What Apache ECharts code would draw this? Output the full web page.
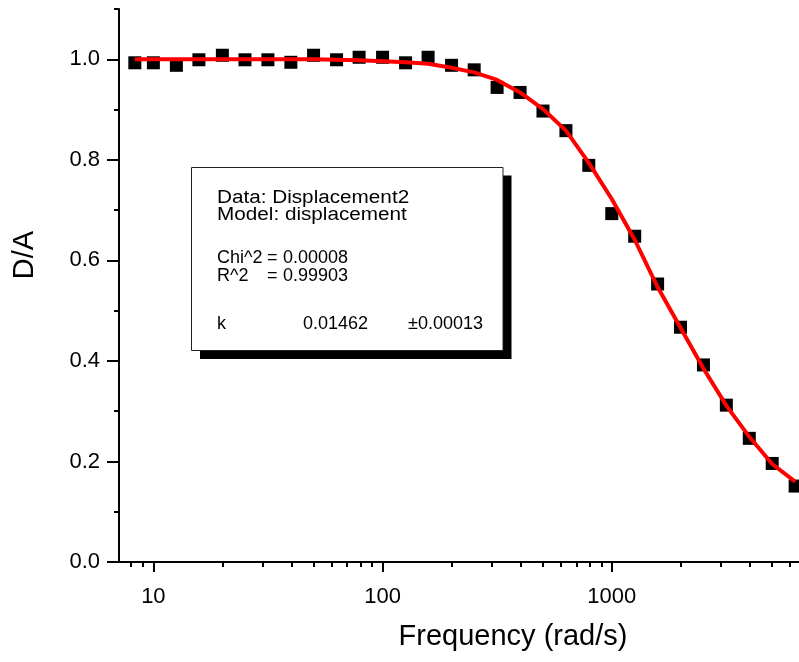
<!DOCTYPE html>
<html><head><meta charset="utf-8">
<script src="https://cdn.jsdelivr.net/npm/echarts@6/dist/echarts.min.js"></script>
<style>html,body{margin:0;padding:0;background:#fff}#chart{width:799px;height:662px}</style>
</head><body><div id="chart"></div>
<script>
// Measured data (Frequency in rad/s, D/A)
const frequency = [8.3, 10, 12.6, 15.8, 20, 25.1, 31.6, 39.8, 50, 63, 79, 100, 126, 158, 200, 251, 316, 398, 501, 631, 794, 1000, 1259, 1585, 1995, 2512, 3162, 3981, 5012, 6310];
const displacement = [0.993, 0.993, 0.988, 0.999, 1.008, 0.999, 0.999, 0.994, 1.008, 0.999, 1.004, 1.004, 0.993, 1.004, 0.988, 0.979, 0.944, 0.934, 0.897, 0.858, 0.789, 0.693, 0.648, 0.553, 0.467, 0.392, 0.312, 0.246, 0.196, 0.151];
// Fitted model curve
const fitFrequency = [8.3, 10, 12.6, 15.8, 20, 25.1, 31.6, 39.8, 50, 63, 79, 100, 126, 158, 200, 251, 316, 398, 501, 631, 794, 1000, 1259, 1585, 1995, 2512, 3162, 3981, 5012, 6310];
const fitValues = [1.000, 1.000, 1.000, 1.000, 1.000, 1.000, 1.000, 1.000, 1.000, 0.999, 0.998, 0.996, 0.994, 0.991, 0.983, 0.974, 0.959, 0.934, 0.901, 0.858, 0.794, 0.722, 0.641, 0.547, 0.466, 0.385, 0.311, 0.249, 0.195, 0.160];
// Axis ticks
const xMajorTicks = [10, 100, 1000];
const xMinorTicks = [8, 9, 20, 30, 40, 50, 60, 70, 80, 90, 200, 300, 400, 500, 600, 700, 800, 900, 2000, 3000, 4000, 5000, 6000];
const yMajorTicks = [0, 0.2, 0.4, 0.6, 0.8, 1.0];
const yMinorTicks = [0.1, 0.3, 0.5, 0.7, 0.9, 1.1];
// Fit report text
const reportLines = ['Data: Displacement2', 'Model: displacement'];
const reportChi = ['Chi^2', '=', '0.00008'];
const reportR = ['R^2', '=', '0.99903'];
const reportK = ['k', '0.01462', '\u00b10.00013'];

const FONT = "'Liberation Sans', Arial, Helvetica, sans-serif";
const X_MIN = 7.08, X_MAX = 6560, Y_MIN = 0, Y_MAX = 1.1;

const chart = echarts.init(document.getElementById('chart'), null, {renderer: 'canvas'});

function txt(text, x, y, size, sx) {
  return {type: 'text', z: 110, x: x, y: y, scaleX: sx || 1,
    style: {text: text, x: 0, y: 0, fill: '#000', font: size + 'px ' + FONT, verticalAlign: 'middle', align: 'left'}};
}
const BOX_FS = 18;

chart.setOption({
  animation: false,
  backgroundColor: '#fff',
  grid: {left: 119, top: 9, right: 0, bottom: 100, containLabel: false},
  xAxis: [{
    type: 'log', min: X_MIN, max: X_MAX, position: 'bottom',
    name: 'Frequency (rad/s)', nameLocation: 'middle', nameGap: 60,
    nameTextStyle: {fontSize: 29, fontFamily: FONT, color: '#000', padding: [0, 0, 0, 108]},
    axisLine: {show: true, lineStyle: {color: '#000', width: 2}},
    axisTick: {show: true, inside: false, length: 10, lineStyle: {color: '#000', width: 2}, customValues: xMajorTicks},
    axisLabel: {show: true, margin: 24, fontSize: 22, fontFamily: FONT, color: '#000', customValues: xMajorTicks,
      formatter: function (v) { return String(Math.round(v)); }},
    splitLine: {show: false}, minorTick: {show: false}
  }, {
    type: 'log', min: X_MIN, max: X_MAX, position: 'bottom',
    axisLine: {show: false},
    axisTick: {show: true, inside: false, length: 5, lineStyle: {color: '#000', width: 2}, customValues: xMinorTicks},
    axisLabel: {show: false}, splitLine: {show: false}
  }],
  yAxis: [{
    type: 'value', min: Y_MIN, max: Y_MAX, position: 'left',
    name: 'D/A', nameLocation: 'middle', nameGap: 80, nameRotate: 90,
    nameTextStyle: {fontSize: 29, fontFamily: FONT, color: '#000', padding: [0, 0, 0, 61]},
    axisLine: {show: true, lineStyle: {color: '#000', width: 2}},
    axisTick: {show: true, inside: false, length: 12, lineStyle: {color: '#000', width: 2}, customValues: yMajorTicks},
    axisLabel: {show: true, margin: 19, fontSize: 22, fontFamily: FONT, color: '#000', customValues: yMajorTicks,
      formatter: function (v) { return Number(v).toFixed(1); }},
    splitLine: {show: false}
  }, {
    type: 'value', min: Y_MIN, max: Y_MAX, position: 'left',
    axisLine: {show: false},
    axisTick: {show: true, inside: false, length: 5, lineStyle: {color: '#000', width: 2}, customValues: yMinorTicks},
    axisLabel: {show: false}, splitLine: {show: false}
  }],
  series: [{
    type: 'scatter', name: 'Displacement2', xAxisIndex: 0, yAxisIndex: 0,
    symbol: 'rect', symbolSize: 13, itemStyle: {color: '#000', opacity: 1},
    data: frequency.map(function (f, i) { return [f, displacement[i]]; }), z: 3
  }, {
    type: 'line', name: 'Fit', xAxisIndex: 0, yAxisIndex: 0,
    showSymbol: false, symbol: 'none', smooth: false,
    lineStyle: {color: '#ff0000', width: 4},
    data: fitFrequency.map(function (f, i) { return [f, fitValues[i]]; }), z: 4
  }],
  graphic: [
    {type: 'rect', z: 100, shape: {x: 200, y: 175.5, width: 311.5, height: 183.5}, style: {fill: '#000'}},
    {type: 'rect', z: 101, shape: {x: 191.5, y: 167.5, width: 311.5, height: 183}, style: {fill: '#fff', stroke: '#222', lineWidth: 1}},
    txt(reportLines[0], 217, 198, BOX_FS, 1.15),
    txt(reportLines[1], 217, 215.5, BOX_FS, 1.15),
    txt(reportChi[0], 217, 258, BOX_FS),
    txt(reportChi[1], 267, 258, BOX_FS),
    txt(reportChi[2], 283, 258, BOX_FS),
    txt(reportR[0], 217, 276, BOX_FS),
    txt(reportR[1], 267, 276, BOX_FS),
    txt(reportR[2], 283, 276, BOX_FS),
    txt(reportK[0], 217, 324, BOX_FS),
    txt(reportK[1], 303, 324, BOX_FS),
    txt(reportK[2], 408, 324, BOX_FS)
  ]
});
</script></body></html>
